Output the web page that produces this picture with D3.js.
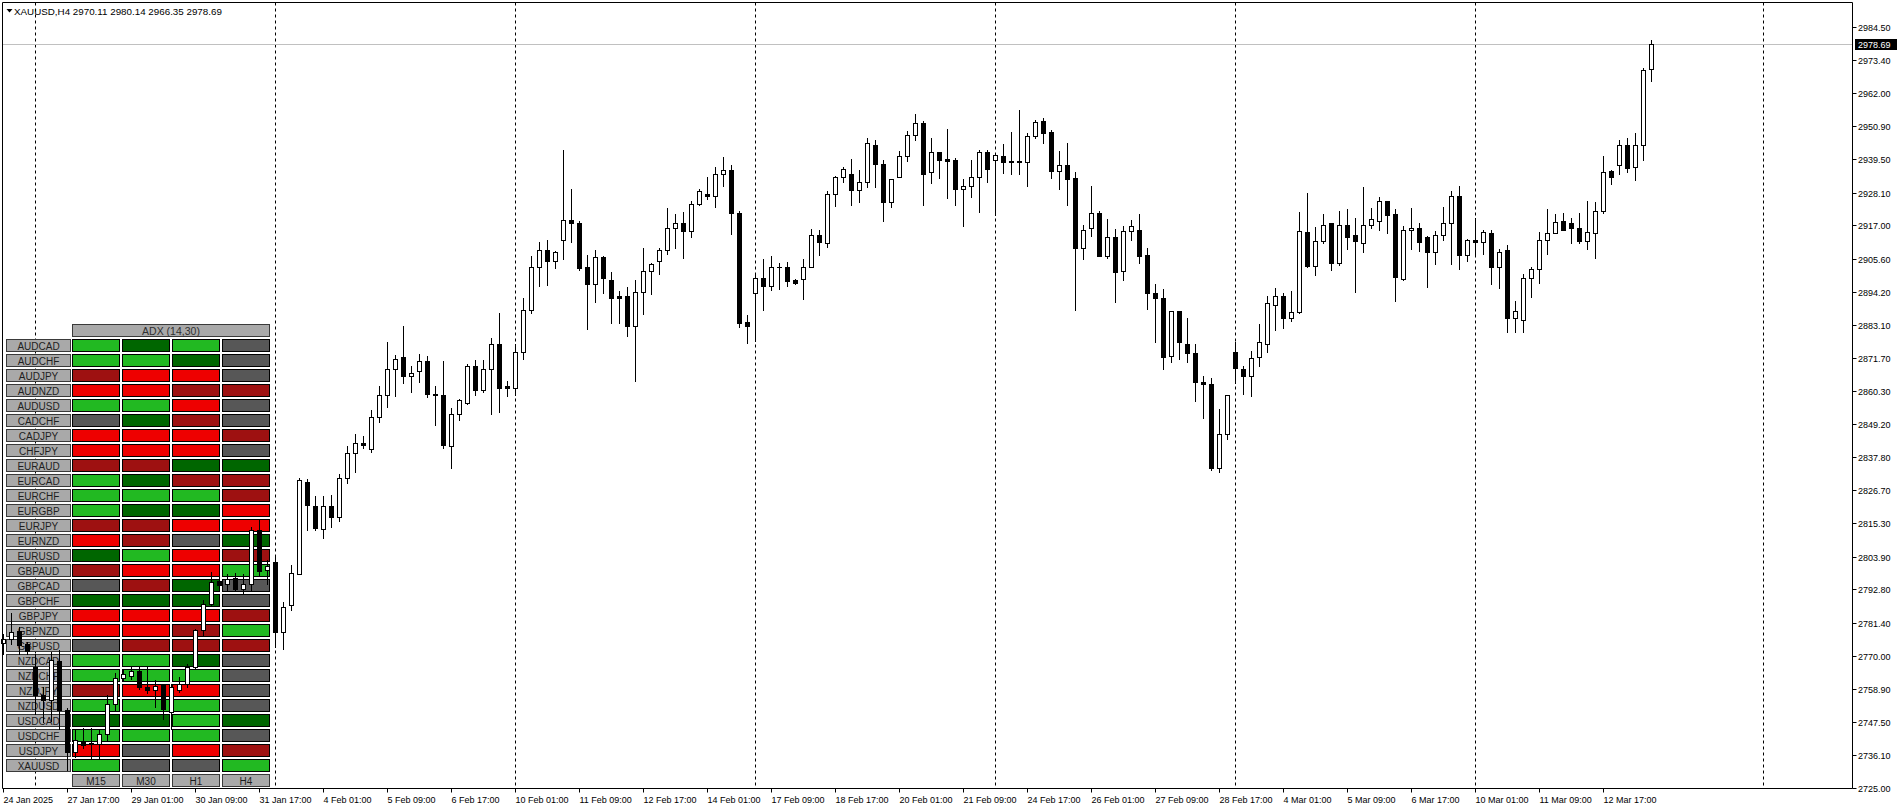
<!DOCTYPE html>
<html><head><meta charset="utf-8">
<script src="https://cdn.jsdelivr.net/npm/d3@7"></script>
<style>html,body{margin:0;padding:0;background:#fff;overflow:hidden}svg{display:block}</style>
</head><body>
<svg id="chart" width="1898" height="810"></svg>
<script>
// ---------------- DATA ----------------
const symbolTitle = "XAUUSD,H4";
const lastOHLC = ["2970.11", "2980.14", "2966.35", "2978.69"];
const currentPrice = 2978.69;

const opens = [
2774.5,2775.9,2778.5,2774.2,2766.3,2756.6,2755.1,2768.2,2751.7,2737.2,
2741.0,2740.3,2740.1,2743.5,2753.7,2762.6,2763.2,2764.8,2759.4,2758.3,
2760.0,2750.9,2758.3,2760.6,2766.3,2778.8,2787.9,2795.5,2794.7,2796.8,
2793.0,2794.5,2812.9,2799.5,2802.1,2778.2,2787.3,2798.1,2829.4,2821.2,
2813.5,2821.2,2817.5,2830.7,2839.4,2842.8,2840.8,2851.4,2859.2,2868.1,
2871.9,2865.6,2867.1,2870.5,2859.4,2859.2,2841.8,2852.7,2856.4,2868.8,
2860.9,2867.8,2876.6,2862.1,2861.3,2873.9,2888.2,2902.6,2908.7,2904.9,
2912.1,2918.7,2917.9,2902.6,2897.0,2906.1,2898.2,2892.8,2892.7,2882.7,
2894.3,2901.2,2904.9,2908.7,2916.2,2917.9,2915.1,2924.1,2927.8,2927.1,
2934.3,2935.7,2921.0,2884.1,2893.7,2899.1,2896.3,2902.9,2902.9,2898.2,
2898.5,2902.9,2913.8,2911.0,2927.8,2933.3,2934.6,2929.1,2931.6,2944.5,
2938.0,2925.0,2933.5,2940.7,2947.6,2952.0,2935.0,2941.8,2939.5,2939.1,
2929.4,2930.5,2933.5,2941.8,2939.4,2940.5,2938.8,2938.8,2938.4,2947.3,
2952.4,2948.8,2935.6,2937.4,2933.1,2909.3,2916.2,2921.0,2906.6,2912.8,
2901.5,2914.9,2915.5,2906.8,2894.0,2892.3,2872.5,2887.6,2876.6,2873.5,
2863.6,2862.9,2834.0,2845.6,2873.9,2868.1,2865.6,2872.1,2876.6,2889.9,
2893.0,2885.5,2887.5,2914.6,2903.1,2911.5,2917.7,2904.2,2916.9,2913.5,
2910.8,2917.2,2918.3,2925.4,2920.8,2898.8,2915.5,2916.2,2912.9,2908.0,
2913.5,2917.9,2926.8,2906.7,2912.1,2911.4,2914.2,2902.6,2908.4,2885.2,
2884.8,2899.0,2902.2,2912.1,2914.2,2918.3,2917.6,2916.2,2911.7,2914.2,
2921.7,2935.5,2937.6,2944.2,2936.7,2944.2,2970.11];
const highs = [
2777.6,2784.8,2779.9,2774.8,2770.8,2759.4,2771.4,2772.2,2752.2,2744.7,
2745.3,2745.3,2744.7,2756.6,2764.2,2765.7,2766.6,2766.3,2766.3,2761.7,
2760.6,2760.6,2762.9,2767.4,2779.3,2789.0,2798.7,2797.0,2798.1,2798.4,
2798.1,2814.0,2816.9,2802.9,2804.4,2788.5,2801.0,2830.9,2830.5,2824.5,
2824.5,2825.0,2832.0,2841.6,2845.7,2845.0,2853.9,2862.1,2877.1,2872.7,
2882.6,2869.1,2873.2,2872.2,2862.1,2870.6,2854.8,2857.6,2869.6,2871.0,
2871.0,2878.4,2886.9,2863.9,2876.4,2892.3,2906.4,2911.2,2911.9,2908.2,
2942.6,2929.3,2918.3,2906.8,2908.7,2906.4,2900.9,2894.7,2895.9,2898.2,
2909.2,2904.2,2909.3,2922.9,2920.8,2921.4,2925.2,2929.5,2933.6,2936.7,
2940.1,2937.4,2921.8,2886.3,2900.8,2905.4,2906.4,2904.0,2904.4,2898.5,
2905.4,2915.6,2915.3,2928.6,2933.7,2936.7,2939.5,2935.8,2946.9,2945.9,
2939.1,2932.9,2942.3,2949.1,2954.9,2952.6,2946.9,2941.8,2949.8,2939.9,
2932.9,2939.2,2942.6,2942.5,2940.8,2944.7,2948.8,2956.3,2948.3,2952.9,
2953.5,2949.4,2942.3,2945.0,2935.0,2917.2,2930.3,2921.7,2919.1,2915.7,
2916.7,2918.7,2920.8,2909.1,2896.9,2895.1,2887.6,2887.6,2885.2,2876.3,
2865.5,2865.0,2854.2,2859.2,2877.2,2869.0,2874.0,2883.2,2893.0,2895.5,
2893.7,2894.4,2921.5,2927.9,2916.3,2920.8,2917.7,2921.8,2922.5,2919.4,
2930.0,2923.0,2926.5,2925.4,2922.4,2916.7,2922.8,2917.6,2913.3,2914.9,
2923.2,2928.5,2930.3,2912.4,2919.3,2915.3,2915.5,2908.9,2910.4,2891.1,
2900.5,2902.8,2914.6,2922.5,2920.7,2921.3,2919.6,2921.0,2925.2,2925.0,
2940.5,2935.9,2945.9,2946.9,2948.6,2970.7,2980.14];
const lows = [
2770.8,2774.2,2770.6,2770.8,2750.3,2747.5,2748.0,2745.2,2731.1,2735.5,
2738.5,2735.4,2735.4,2741.5,2751.2,2761.7,2762.3,2758.9,2757.4,2752.6,
2748.6,2745.2,2757.7,2759.4,2765.7,2777.0,2787.0,2793.6,2792.4,2792.4,
2791.3,2792.7,2797.6,2794.5,2773.1,2772.5,2785.6,2797.9,2813.1,2812.9,
2810.4,2814.0,2816.0,2829.0,2832.8,2841.0,2839.7,2849.9,2855.0,2858.7,
2863.2,2860.2,2863.5,2858.4,2849.0,2841.0,2834.2,2850.7,2855.9,2859.1,
2860.2,2852.7,2853.3,2858.8,2859.0,2871.4,2886.9,2896.3,2896.7,2902.5,
2905.5,2911.3,2901.8,2881.7,2890.9,2893.9,2883.7,2883.7,2879.2,2863.9,
2886.8,2893.6,2900.5,2907.3,2909.3,2905.9,2913.0,2923.9,2925.9,2923.3,
2930.3,2914.0,2882.1,2876.8,2877.5,2888.0,2894.8,2895.2,2896.3,2897.1,
2891.9,2902.8,2906.9,2909.6,2923.6,2931.8,2923.9,2925.0,2930.1,2930.1,
2918.5,2923.3,2933.5,2939.0,2946.0,2923.9,2931.5,2933.2,2926.2,2923.9,
2916.8,2926.7,2921.6,2931.8,2920.5,2934.9,2934.5,2934.5,2930.3,2946.6,
2945.1,2933.1,2929.3,2923.8,2888.0,2905.4,2913.4,2906.6,2905.9,2890.8,
2898.4,2912.0,2904.2,2888.5,2877.0,2868.0,2870.4,2871.4,2870.4,2857.1,
2851.3,2833.6,2832.8,2844.0,2863.2,2859.3,2858.6,2868.9,2873.8,2881.4,
2882.0,2884.4,2887.1,2902.8,2900.0,2911.0,2901.7,2903.4,2908.9,2894.3,
2907.9,2916.1,2915.3,2914.4,2891.2,2898.2,2908.9,2908.3,2895.9,2903.8,
2911.9,2903.6,2902.2,2904.7,2906.7,2907.0,2896.8,2895.4,2880.4,2880.4,
2880.4,2892.5,2897.3,2907.0,2914.2,2915.3,2910.8,2910.8,2908.9,2905.9,
2921.2,2930.9,2934.3,2935.2,2932.5,2939.1,2966.35];
const closes = [
2775.9,2778.2,2773.7,2771.7,2756.6,2755.1,2768.5,2751.7,2737.2,2741.5,
2739.6,2739.9,2743.5,2753.7,2762.6,2764.0,2764.8,2759.4,2758.3,2759.7,
2752.0,2759.4,2760.6,2766.3,2778.8,2787.9,2795.3,2794.4,2796.4,2793.0,
2794.5,2812.9,2799.0,2800.6,2778.2,2786.7,2798.4,2830.2,2821.4,2813.7,
2821.2,2817.5,2830.7,2839.4,2842.8,2842.1,2851.4,2859.2,2867.8,2871.2,
2865.6,2866.7,2870.5,2859.4,2859.2,2842.1,2852.7,2857.3,2868.8,2860.9,
2867.8,2876.6,2861.3,2861.5,2873.9,2888.2,2902.6,2908.7,2904.9,2907.7,
2918.9,2917.9,2902.5,2897.0,2906.0,2899.1,2892.2,2892.2,2882.7,2894.3,
2901.2,2903.9,2908.7,2915.9,2917.9,2915.1,2924.1,2928.8,2927.1,2934.3,
2935.7,2921.0,2883.7,2882.6,2899.1,2896.3,2902.9,2902.7,2898.0,2897.3,
2902.9,2913.8,2911.3,2927.8,2933.3,2936.0,2929.1,2931.6,2944.9,2937.9,
2925.0,2932.9,2940.7,2947.6,2952.0,2934.5,2941.8,2939.4,2939.0,2929.4,
2930.5,2933.6,2941.8,2936.0,2940.8,2938.6,2938.4,2938.4,2947.3,2952.1,
2948.5,2935.6,2937.4,2932.8,2909.3,2915.2,2921.0,2906.6,2912.8,2901.1,
2914.9,2916.6,2906.6,2893.9,2892.3,2872.1,2887.6,2877.2,2873.4,2863.5,
2862.9,2834.2,2845.6,2859.2,2868.4,2865.6,2871.8,2877.3,2890.3,2893.0,
2885.4,2887.5,2914.9,2903.1,2911.5,2916.9,2904.2,2916.9,2913.0,2911.7,
2917.2,2919.2,2925.4,2920.5,2899.2,2915.2,2916.2,2911.4,2908.0,2913.5,
2917.9,2926.8,2906.7,2912.1,2911.4,2914.5,2902.8,2908.0,2885.5,2887.8,
2899.0,2902.2,2912.1,2914.2,2918.2,2915.3,2916.2,2911.7,2914.5,2922.0,
2935.0,2933.3,2944.2,2936.6,2944.2,2969.8,2978.69];

const xTickLabels = ["24 Jan 2025","27 Jan 17:00","29 Jan 01:00","30 Jan 09:00","31 Jan 17:00",
  "4 Feb 01:00","5 Feb 09:00","6 Feb 17:00","10 Feb 01:00","11 Feb 09:00","12 Feb 17:00",
  "14 Feb 01:00","17 Feb 09:00","18 Feb 17:00","20 Feb 01:00","21 Feb 09:00","24 Feb 17:00",
  "26 Feb 01:00","27 Feb 09:00","28 Feb 17:00","4 Mar 01:00","5 Mar 09:00","6 Mar 17:00",
  "10 Mar 01:00","11 Mar 09:00","12 Mar 17:00"];
const barsPerXTick = 8;
const weekStartBars = [4, 34, 64, 94, 124, 154, 184, 220];

const priceTickLabels = ["2984.50","2973.40","2962.00","2950.90","2939.50","2928.10","2917.00",
  "2905.60","2894.20","2883.10","2871.70","2860.30","2849.20","2837.80","2826.70","2815.30",
  "2803.90","2792.80","2781.40","2770.00","2758.90","2747.50","2736.10","2725.00"];

const adxTitle = "ADX (14,30)";
const pairs = ["AUDCAD","AUDCHF","AUDJPY","AUDNZD","AUDUSD","CADCHF","CADJPY","CHFJPY",
  "EURAUD","EURCAD","EURCHF","EURGBP","EURJPY","EURNZD","EURUSD","GBPAUD","GBPCAD","GBPCHF",
  "GBPJPY","GBPNZD","GBPUSD","NZDCAD","NZDCHF","NZDJPY","NZDUSD","USDCAD","USDCHF","USDJPY","XAUUSD"];
const timeframes = ["M15","M30","H1","H4"];
// G strong up, g weak up, R strong down, r weak down, N flat
const adxM15 = ["G","G","r","R","G","N","R","R","r","G","G","G","r","R","g","r","N","g","R","R","N","G","G","r","G","g","G","R","G"];
const adxM30 = ["g","G","R","R","G","g","R","R","r","g","G","g","r","r","G","R","r","g","R","R","r","G","G","R","G","g","G","N","N"];
const adxH1  = ["G","g","R","r","R","r","R","R","g","r","G","g","R","N","R","R","g","g","R","r","r","g","G","R","G","G","G","R","N"];
const adxH4  = ["N","N","N","r","N","N","r","N","g","r","r","R","R","g","r","G","N","N","r","G","r","N","N","N","N","g","N","r","G"];

// ---------------- DRAW ----------------
const W = 1898, H = 810;
const plotL = 2.5, plotR = 1852.5, plotT = 2.5, plotB = 788.5;
const FONT = "'Liberation Sans', Arial, sans-serif";
const svg = d3.select("#chart");
svg.append("rect").attr("width", W).attr("height", H).attr("fill", "#fff");

const nFuture = 231;
const x = d3.scaleLinear().domain([-0.125, nFuture + 0.125]).range([plotL, plotR]);
const y = d3.scaleLinear().domain([2725.0, 2984.5]).range([788, 27.3]);

const bars = d3.range(opens.length).map(i => ({i, o: opens[i], h: highs[i], l: lows[i], c: closes[i]}));
const adxCols = [adxM15, adxM30, adxH1, adxH4];
const colorMap = {G: "#22b922", g: "#006600", R: "#ee0000", r: "#9e1111", N: "#575757"};

// week separators
svg.append("g").selectAll("line").data(weekStartBars).join("line")
  .attr("x1", d => x(d)).attr("x2", d => x(d))
  .attr("y1", plotT).attr("y2", plotB)
  .attr("stroke", "#000").attr("stroke-width", 1).attr("stroke-dasharray", "3,3");

// current price line
const cpY = Math.round(y(currentPrice)) + 0.5;
svg.append("line").attr("x1", plotL).attr("x2", plotR).attr("y1", cpY).attr("y2", cpY)
  .attr("stroke", "#c0c0c0").attr("stroke-width", 1);

// ADX panel (background object)
const panel = svg.append("g");
function cell(g, x0, y0, w, h, border, fill) {
  g.append("rect").attr("x", x0).attr("y", y0).attr("width", w).attr("height", h).attr("fill", border);
  g.append("rect").attr("x", x0 + 1).attr("y", y0 + 1).attr("width", w - 2).attr("height", h - 2).attr("fill", fill);
}
const colX0 = 72, colPitch = 50, colW = 48, rowY0 = 339, rowPitch = 15, rowH = 13, lblX = 6, lblW = 65;
cell(panel, colX0, rowY0 - rowPitch, colPitch * 3 + colW, rowH, "#3a3a3a", "#a9a9a9");
panel.append("text").attr("x", colX0 + (colPitch * 3 + colW) / 2).attr("y", rowY0 - rowPitch + 10.5)
  .attr("text-anchor", "middle").attr("font-family", FONT).attr("font-size", "10.5px").attr("fill", "#303030")
  .text(adxTitle);
pairs.forEach((p, r) => {
  const yy = rowY0 + r * rowPitch;
  cell(panel, lblX, yy, lblW, rowH, "#3a3a3a", "#a9a9a9");
  panel.append("text").attr("x", lblX + lblW / 2).attr("y", yy + 10.5).attr("text-anchor", "middle")
    .attr("font-family", FONT).attr("font-size", "10px").attr("fill", "#1e1e1e").text(p);
  adxCols.forEach((col, k) => {
    cell(panel, colX0 + k * colPitch, yy, colW, rowH, "#000", colorMap[col[r]]);
  });
});
timeframes.forEach((tf, k) => {
  const yy = rowY0 + pairs.length * rowPitch;
  cell(panel, colX0 + k * colPitch, yy, colW, rowH, "#3a3a3a", "#a9a9a9");
  panel.append("text").attr("x", colX0 + k * colPitch + colW / 2).attr("y", yy + 10.5).attr("text-anchor", "middle")
    .attr("font-family", FONT).attr("font-size", "10px").attr("fill", "#1e1e1e").text(tf);
});

// candles
const cg = svg.append("g");
const candle = cg.selectAll("g").data(bars).join("g");
candle.append("rect")
  .attr("x", d => x(d.i) - 0.5).attr("width", 1)
  .attr("y", d => Math.round(y(d.h)))
  .attr("height", d => Math.max(1, Math.round(y(d.l)) - Math.round(y(d.h)) + 1))
  .attr("fill", "#000");
candle.append("rect")
  .attr("x", d => x(d.i) - 2.5).attr("width", 5)
  .attr("y", d => Math.round(y(Math.max(d.o, d.c))))
  .attr("height", d => Math.max(1, Math.round(y(Math.min(d.o, d.c))) - Math.round(y(Math.max(d.o, d.c))) + 1))
  .attr("fill", "#000");
candle.filter(d => d.c > d.o && (Math.round(y(d.o)) - Math.round(y(d.c))) >= 2).append("rect")
  .attr("x", d => x(d.i) - 1.5).attr("width", 3)
  .attr("y", d => Math.round(y(d.c)) + 1)
  .attr("height", d => Math.round(y(d.o)) - Math.round(y(d.c)) - 1)
  .attr("fill", "#fff");

// frame
svg.append("path")
  .attr("d", `M${plotL},${plotB} L${plotL},${plotT} L${plotR},${plotT} L${plotR},${plotB} L${plotL},${plotB}`)
  .attr("fill", "none").attr("stroke", "#000").attr("stroke-width", 1);

// price axis
const pa = svg.append("g");
priceTickLabels.forEach(lbl => {
  const yy = Math.round(y(+lbl)) + 0.5;
  pa.append("line").attr("x1", plotR).attr("x2", plotR + 4).attr("y1", yy).attr("y2", yy).attr("stroke", "#000");
  pa.append("text").attr("x", plotR + 5.5).attr("y", yy + 3.5).attr("font-family", FONT)
    .attr("font-size", "9px").attr("fill", "#000").text(lbl);
});
// current price tag
pa.append("rect").attr("x", plotR + 2.5).attr("y", cpY - 5.5).attr("width", 42).attr("height", 11).attr("fill", "#000");
pa.append("text").attr("x", plotR + 5.5).attr("y", cpY + 3.5).attr("font-family", FONT)
  .attr("font-size", "9px").attr("fill", "#fff").text(currentPrice.toFixed(2));

// time axis
const ta = svg.append("g");
xTickLabels.forEach((lbl, k) => {
  const xx = x(k * barsPerXTick);
  ta.append("line").attr("x1", xx).attr("x2", xx).attr("y1", plotB).attr("y2", plotB + 4).attr("stroke", "#000");
  ta.append("text").attr("x", xx).attr("y", 802.5).attr("font-family", FONT)
    .attr("font-size", "9px").attr("fill", "#000").text(lbl);
});

// title
svg.append("path").attr("d", "M6.5,9 L12.5,9 L9.5,12.5 Z").attr("fill", "#000");
svg.append("text").attr("x", 14).attr("y", 14.5).attr("font-family", FONT).attr("font-size", "9.8px")
  .attr("fill", "#000").text(symbolTitle + "  " + lastOHLC.join(" "));
</script>
</body></html>
